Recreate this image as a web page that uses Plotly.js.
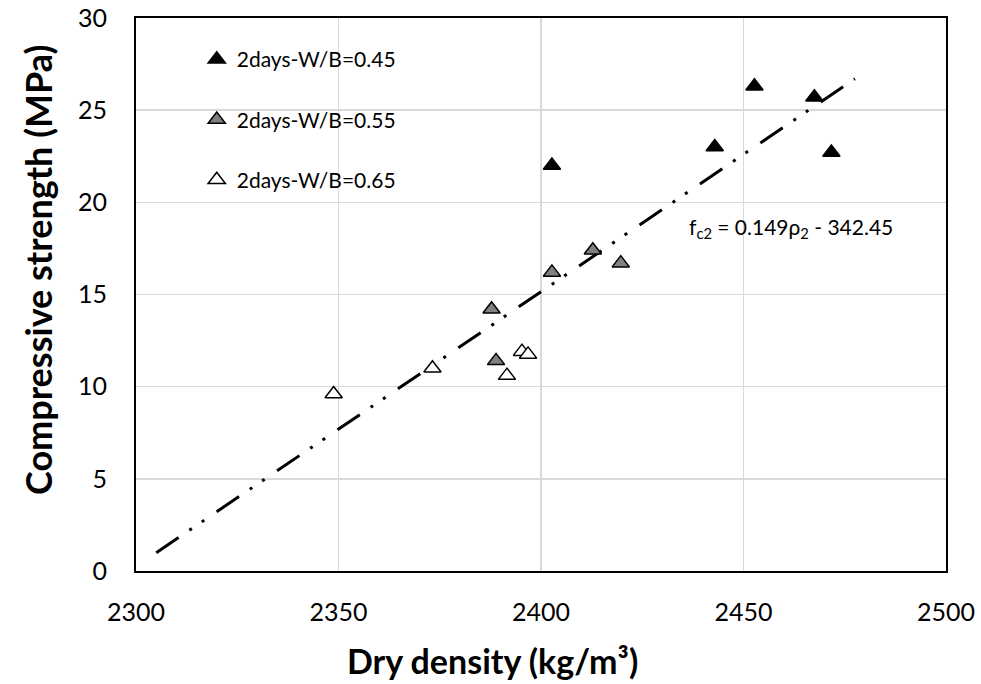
<!DOCTYPE html>
<html>
<head>
<meta charset="utf-8">
<script src="https://cdn.plot.ly/plotly-3.0.1.min.js"></script>
<style>html,body{margin:0;padding:0;background:#fff;}#chart{width:981px;height:684px;}</style>
</head>
<body>
<div id="chart"></div>
<script>
// Series: W/B = 0.45 (black triangles)
const densityWB045 = [2402.7, 2442.9, 2452.7, 2467.5, 2471.7];
const strengthWB045 = [22.0, 23.0, 26.3, 25.7, 22.7];
// Series: W/B = 0.55 (grey triangles)
const densityWB055 = [2387.8, 2388.9, 2402.7, 2412.8, 2419.7];
const strengthWB055 = [14.2, 11.4, 16.2, 17.4, 16.7];
// Series: W/B = 0.65 (white triangles)
const densityWB065 = [2348.8, 2373.2, 2391.6, 2395.3, 2396.8];
const strengthWB065 = [9.6, 11.0, 10.6, 11.9, 11.75];
// Trendline end points (f_c2 = 0.149 rho_2 - 342.45)
const trendDensity = [2305, 2477.5];
const trendStrength = [0.99, 26.7];

const seriesNames = ['2days-W/B=0.45', '2days-W/B=0.55', '2days-W/B=0.65'];
const xTicks = [2300, 2350, 2400, 2450, 2500];
const yTicks = [0, 5, 10, 15, 20, 25, 30];
const xTitle = 'Dry density (kg/m³)';
const yTitle = 'Compressive strength (MPa)';
const equationText = 'f<sub>c2</sub> = 0.149ρ<sub>2</sub> - 342.45';

const FONT = 'Lato, "Liberation Sans", sans-serif';

function markerTrace(x, y, name, fill, group) {
  return {
    x: x, y: y, name: name, type: 'scatter', mode: 'markers',
    legendgroup: group,
    marker: {symbol: 'triangle-up', size: 15, color: fill, line: {color: '#000', width: 1.5}}
  };
}

const data = [
  {
    x: trendDensity, y: trendStrength, type: 'scatter', mode: 'lines', showlegend: false,
    line: {color: '#000', width: 3, dash: '27px,13px,3px,12px,3px,15px'}, hoverinfo: 'skip'
  },
  markerTrace(densityWB045, strengthWB045, seriesNames[0], '#000000', 'a'),
  markerTrace(densityWB055, strengthWB055, seriesNames[1], '#808080', 'b'),
  markerTrace(densityWB065, strengthWB065, seriesNames[2], '#ffffff', 'c')
];

const layout = {
  width: 981, height: 684,
  margin: {l: 136, r: 35, t: 18, b: 113},
  paper_bgcolor: '#fff', plot_bgcolor: '#fff',
  font: {family: FONT, color: '#000'},
  xaxis: {
    range: [2300, 2500], tickvals: xTicks, ticktext: xTicks.map(String),
    showgrid: true, gridcolor: '#d9d9d9', gridwidth: 1.5,
    showline: true, linecolor: '#000', linewidth: 2, mirror: true,
    ticks: 'outside', ticklen: 18, tickcolor: 'rgba(0,0,0,0)',
    tickfont: {size: 25, family: FONT, color: '#000'},
    zeroline: false
  },
  yaxis: {
    range: [0, 30], tickvals: yTicks, ticktext: yTicks.map(String),
    showgrid: true, gridcolor: '#d9d9d9', gridwidth: 1.5,
    showline: true, linecolor: '#000', linewidth: 2, mirror: true,
    ticks: 'outside', ticklen: 22, tickcolor: 'rgba(0,0,0,0)',
    tickfont: {size: 25, family: FONT, color: '#000'},
    zeroline: false
  },
  legend: {
    x: 0.075, y: 0.962, xanchor: 'left', yanchor: 'top',
    bgcolor: 'rgba(0,0,0,0)', borderwidth: 0,
    font: {size: 21, family: FONT, color: '#000'},
    tracegroupgap: 30, itemwidth: 30
  },
  annotations: [
    {
      x: 2436, y: 18.6, xref: 'x', yref: 'y', xanchor: 'left', yanchor: 'middle',
      text: equationText, showarrow: false,
      font: {size: 21, family: FONT, color: '#000'}
    },
    {
      x: (492 - 136) / 810, y: (571 - 660) / 553, xref: 'paper', yref: 'paper',
      xanchor: 'center', yanchor: 'middle', showarrow: false,
      text: '<b>' + xTitle + '</b>', font: {size: 34, family: FONT, color: '#000'}
    },
    {
      x: (38 - 136) / 810, y: (571 - 270) / 553, xref: 'paper', yref: 'paper',
      xanchor: 'center', yanchor: 'middle', showarrow: false, textangle: -90,
      text: '<b>' + yTitle + '</b>', font: {size: 36, family: FONT, color: '#000'}
    }
  ]
};

Plotly.newPlot('chart', data, layout, {displayModeBar: false, staticPlot: true});
</script>
</body>
</html>
